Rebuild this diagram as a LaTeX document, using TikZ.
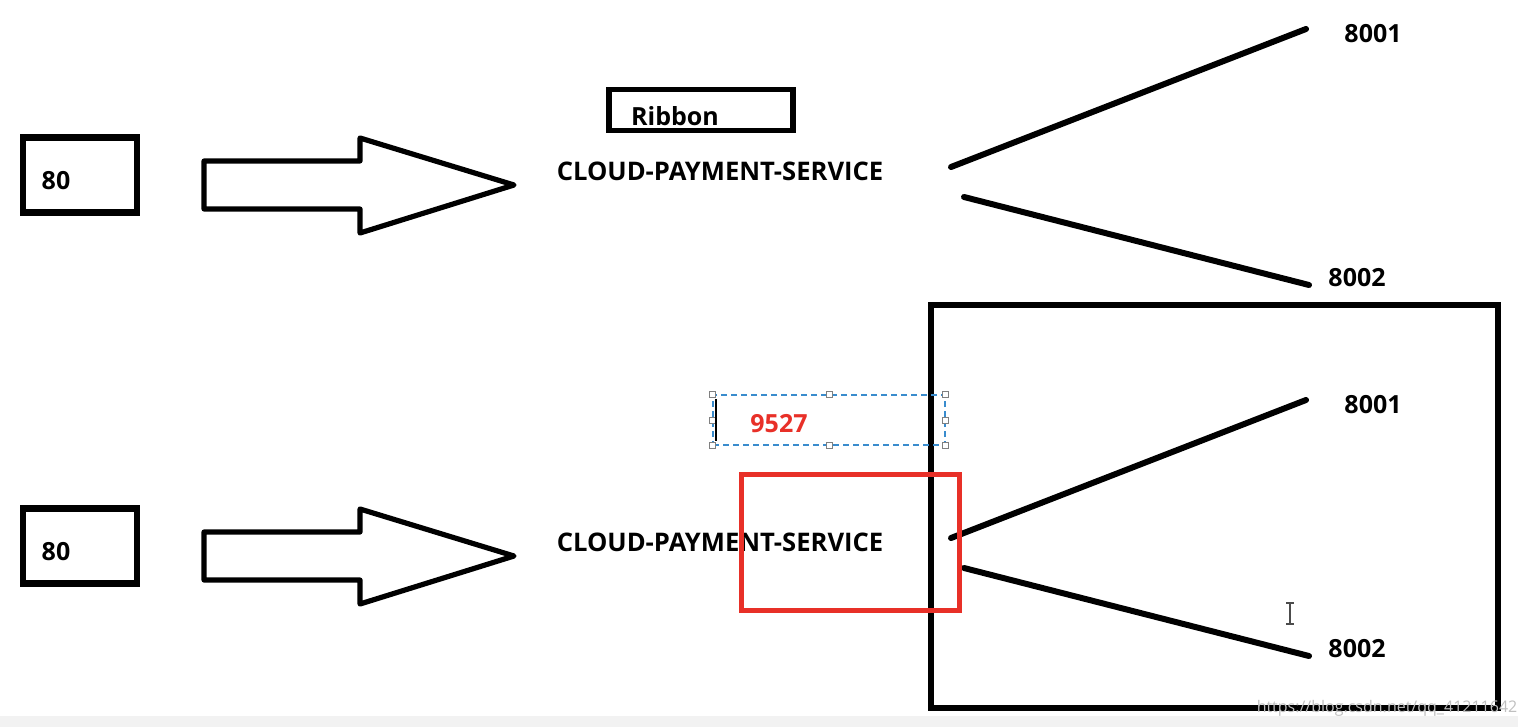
\documentclass[tikz,border=0pt]{standalone}
\usepackage{fontspec}
\setmainfont{Open Sans}
\usetikzlibrary{positioning}

\definecolor{boxred}{RGB}{232,48,40}
\definecolor{selblue}{RGB}{58,140,205}

\begin{document}
\begin{tikzpicture}[x=0.5pt, y=-0.5pt]
        \tikzstyle{every node} = [font=\bfseries\fontsize{12.5}{15}\selectfont, inner sep=0pt]
        \tikzstyle{frame}  = [draw, line width=3.4pt, minimum width=57pt, minimum height=37.5pt]
        \tikzstyle{ribbonbox} = [draw, line width=2.7pt, minimum width=92pt, minimum height=20.5pt]
        \tikzstyle{blockarrow} = [line width=2.6pt, line join=round]
        \tikzstyle{spoke}  = [line width=3pt, line cap=round]
        \tikzstyle{handle} = [draw=gray, fill=white, line width=0.4pt, minimum size=3pt]
        \tikzstyle{svc}    = [font=\bfseries\fontsize{12.8}{15}\selectfont]

        \def\rowa{0}
        \def\rowb{371}

        \useasboundingbox (0,0) rectangle (1518,727);
        \fill[black!5] (0,716) rectangle (1518,727);

        % client, arrow, service name and the two ports, once per row
        \foreach \r/\n in {\rowa/a, \rowb/b} {
            \node[frame] (client\n) at (80,175+\r) {};
            \node (port\n) at (56,181+\r) {80};
            \draw[blockarrow] (204,161+\r) -- (360,161+\r) -- (360,138+\r) -- (514,185+\r)
                -- (360,233+\r) -- (360,209+\r) -- (204,209+\r) -- cycle;
            \node[svc] (service\n) at (720,171+\r) {CLOUD-PAYMENT-SERVICE};

            \coordinate (fanup\n) at (951,167+\r);
            \coordinate (fandown\n) at (964,197+\r);
            \coordinate (endup\n) at (1306,29+\r);
            \coordinate (enddown\n) at (1309,285+\r);
            \node (first\n) at (1373,34+\r) {8001};
            \node (second\n) at (1357,278+\r) {8002};
            \draw[spoke] (fanup\n) -- (endup\n);
            \draw[spoke] (fandown\n) -- (enddown\n);
        }

        \node[ribbonbox] (ribbon) at (701,110) {};
        \node (ribbontext) at (675,116) {Ribbon};

        % cluster frame and highlight
        \node[draw, line width=3.2pt, minimum width=283.5pt, minimum height=201.5pt] (cluster) at (1214.5,506.5) {};
        \node[draw=boxred, line width=2.5pt, minimum width=109pt, minimum height=68pt] (highlight) at (850,542) {};

        % text box being edited
        \node[draw=selblue, dashed, dash pattern=on 3pt off 2pt, line width=0.6pt,
              minimum width=116pt, minimum height=25pt] (editbox) at (829,420) {};
        \foreach \a in {north west, north, north east, west, east, south west, south, south east}
            \node[handle] at (editbox.\a) {};
        \draw[line width=0.8pt] (716,399) -- (716,441);
        \node[text=boxred] (alias) at (779,424) {9527};

        % mouse cursor
        \draw[line width=0.6pt, black!70] (1290,603) -- (1290,624)
            (1286,603) -- (1294,603) (1286,624) -- (1294,624);

        \node[font=\fontsize{8}{9}\selectfont, text=black!25] (mark) at (1387,708) {https://blog.csdn.net/qq\_41211642};
\end{tikzpicture}
\end{document}
